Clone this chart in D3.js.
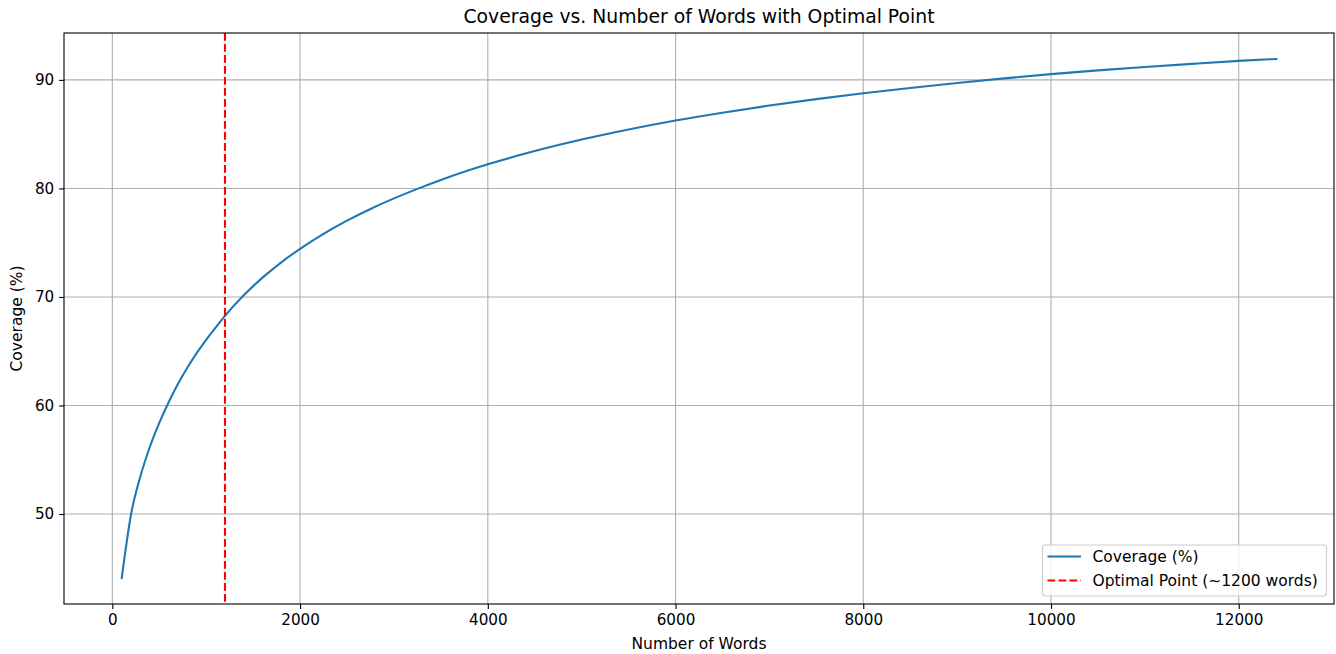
<!DOCTYPE html>
<html>
<head>
<meta charset="utf-8">
<script src="https://cdn.jsdelivr.net/npm/d3@7"></script>
<style>
  html, body { margin: 0; padding: 0; background: #fff; }
  svg { display: block; font-family: "DejaVu Sans", sans-serif; }
</style>
</head>
<body>
<svg id="chart" width="1336" height="654"></svg>
<script>
// ---- data ----
const words = [100, 200, 300, 400, 500, 600, 700, 800, 900, 1000, 1100, 1200,
  1400, 1600, 1800, 2000, 2250, 2500, 2750, 3000, 3250, 3500, 4000, 4500, 5000,
  5500, 6000, 6500, 7000, 7500, 8000, 8500, 9000, 9500, 10000, 10500, 11000,
  11500, 12000, 12400];
const coverage = [44.1, 50.0, 53.5, 56.2, 58.4, 60.3, 62.0, 63.5, 64.85, 66.05, 67.17, 68.25,
  70.15, 71.78, 73.19, 74.44, 75.82, 77.03, 78.11, 79.08, 79.96, 80.78, 82.22, 83.44, 84.5,
  85.43, 86.26, 86.98, 87.64, 88.23, 88.77, 89.26, 89.72, 90.14, 90.53, 90.88, 91.19,
  91.48, 91.75, 91.93];
const optimalWords = 1200;
const xTicks = [0, 2000, 4000, 6000, 8000, 10000, 12000];
const yTicks = [50, 60, 70, 80, 90];
const titleText = "Coverage vs. Number of Words with Optimal Point";
const xLabel = "Number of Words";
const yLabel = "Coverage (%)";
const legendLabels = ["Coverage (%)", "Optimal Point (~1200 words)"];

// ---- layout ----
const svg = d3.select("#chart");
const L = 64, R = 1334, T = 33, B = 604;
const tickFont = "15.2px", labelFont = "15.5px", titleFont = "18.8px";

function padded(ext) {
  const r = ext[1] - ext[0];
  return [ext[0] - 0.05 * r, ext[1] + 0.05 * r];
}
const x = d3.scaleLinear().domain(padded(d3.extent(words))).range([L, R]);
const y = d3.scaleLinear().domain(padded(d3.extent(coverage))).range([B, T]);

// grid
const grid = svg.append("g");
grid.selectAll(".gx").data(xTicks).join("line")
  .attr("x1", d => x(d)).attr("x2", d => x(d))
  .attr("y1", T).attr("y2", B)
  .attr("stroke", "#b0b0b0").attr("stroke-width", 1.1);
grid.selectAll(".gy").data(yTicks).join("line")
  .attr("x1", L).attr("x2", R)
  .attr("y1", d => y(d)).attr("y2", d => y(d))
  .attr("stroke", "#b0b0b0").attr("stroke-width", 1.1);

// axes
const xAxis = d3.axisBottom(x).tickValues(xTicks).tickFormat(d3.format("d"))
  .tickSizeInner(4.9).tickSizeOuter(0).tickPadding(4.9);
const yAxis = d3.axisLeft(y).tickValues(yTicks).tickFormat(d3.format("d"))
  .tickSizeInner(4.9).tickSizeOuter(0).tickPadding(4.9);

const gx = svg.append("g").attr("transform", `translate(0,${B})`).call(xAxis);
const gy = svg.append("g").attr("transform", `translate(${L},0)`).call(yAxis);
[gx, gy].forEach(g => {
  g.select(".domain").remove();
  g.selectAll(".tick line").attr("stroke", "#000").attr("stroke-width", 1.1);
  g.selectAll(".tick text").attr("fill", "#000")
    .style("font-family", "DejaVu Sans").style("font-size", tickFont);
});

// line
const line = d3.line().x((d, i) => x(words[i])).y(d => y(d)).curve(d3.curveMonotoneX);
svg.append("path").datum(coverage)
  .attr("d", line)
  .attr("fill", "none")
  .attr("stroke", "#1f77b4")
  .attr("stroke-width", 2.08)
  .attr("stroke-linejoin", "round")
  .attr("stroke-linecap", "square");

// optimal vertical line
svg.append("line")
  .attr("x1", x(optimalWords)).attr("x2", x(optimalWords))
  .attr("y1", T).attr("y2", B)
  .attr("stroke", "#ff0000").attr("stroke-width", 2.08)
  .attr("stroke-dasharray", "7.7,3.3");

// frame
svg.append("rect").attr("x", L).attr("y", T)
  .attr("width", R - L).attr("height", B - T)
  .attr("fill", "none").attr("stroke", "#000").attr("stroke-width", 1.1);

// title & labels
svg.append("text").attr("x", (L + R) / 2).attr("y", 23)
  .attr("text-anchor", "middle").style("font-size", titleFont).attr("fill", "#000")
  .text(titleText);
svg.append("text").attr("x", (L + R) / 2).attr("y", 649)
  .attr("text-anchor", "middle").style("font-size", labelFont).attr("fill", "#000")
  .text(xLabel);
svg.append("text").attr("transform", `translate(22,${(T + B) / 2}) rotate(-90)`)
  .attr("text-anchor", "middle").style("font-size", labelFont).attr("fill", "#000")
  .text(yLabel);

// legend
const lg = svg.append("g");
const lx = 1042.5, ly = 545, lw = 284, lh = 51;
lg.append("rect").attr("x", lx).attr("y", ly).attr("width", lw).attr("height", lh)
  .attr("rx", 3).attr("ry", 3)
  .attr("fill", "#fff").attr("fill-opacity", 0.8)
  .attr("stroke", "#cccccc").attr("stroke-width", 1.1);
const styles = [
  { color: "#1f77b4", dash: null },
  { color: "#ff0000", dash: "7.7,3.3" }
];
legendLabels.forEach((lab, i) => {
  const cy = 556.5 + i * 24;
  const l = lg.append("line").attr("x1", 1047.5).attr("x2", 1081)
    .attr("y1", cy).attr("y2", cy)
    .attr("stroke", styles[i].color).attr("stroke-width", 2.08);
  if (styles[i].dash) l.attr("stroke-dasharray", styles[i].dash);
  lg.append("text").attr("x", 1092.5).attr("y", cy + 5.5)
    .style("font-size", labelFont).attr("fill", "#000").text(lab);
});
</script>
</body>
</html>
